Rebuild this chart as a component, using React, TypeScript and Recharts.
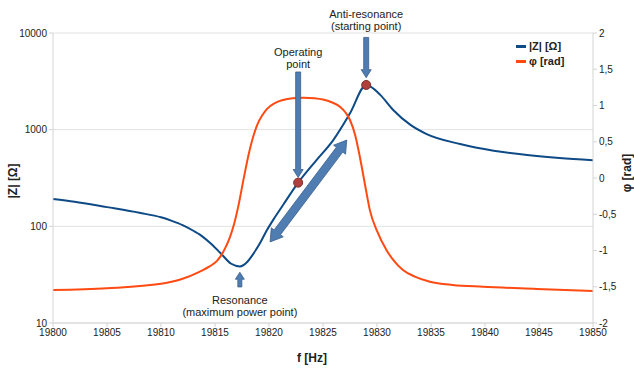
import React from 'react'
import { LineChart, Line, XAxis, YAxis, CartesianGrid, ReferenceLine, ReferenceDot, Legend } from 'recharts'

// |Z| curve
const zFreq = [19800, 19802, 19805, 19808, 19810, 19811, 19812, 19813, 19813.6, 19814.5, 19815.5, 19816.5, 19817.3, 19818, 19818.5, 19819.2, 19819.8, 19820.5, 19821.3, 19822.7, 19824.4, 19825.95, 19827.5, 19829, 19829.4, 19830.3, 19831.5, 19833.1, 19834.6, 19837.7, 19840.8, 19843.9, 19846.9, 19850]
const zOhm = [192, 180, 158, 138, 124, 114, 103, 90, 82, 68, 53, 41, 38.5, 43, 51, 68, 91, 122, 166, 283, 485, 781, 1475, 2900, 2780, 2290, 1600, 1120, 900, 710, 606, 547, 509, 482]

// phase curve
const phiFreq = [19800, 19805, 19810, 19812, 19813.6, 19814.5, 19815.2, 19815.6, 19816, 19816.35, 19816.7, 19817.2, 19817.6, 19818.2, 19818.9, 19819.4, 19819.8, 19820.5, 19821.3, 19822.2, 19823.2, 19824.2, 19825, 19825.8, 19826.6, 19827.1, 19827.5, 19828, 19828.4, 19828.9, 19829.35, 19830, 19830.9, 19831.5, 19832.4, 19833.5, 19834.9, 19837, 19839.8, 19844.8, 19850]
const phiRad = [-1.545, -1.52, -1.46, -1.39, -1.29, -1.22, -1.14, -1.06, -0.95, -0.83, -0.67, -0.36, -0.05, 0.38, 0.73, 0.87, 0.95, 1.03, 1.076, 1.1, 1.108, 1.1, 1.082, 1.045, 0.98, 0.9, 0.8, 0.58, 0.3, -0.1, -0.45, -0.73, -1.0, -1.13, -1.27, -1.36, -1.43, -1.475, -1.5, -1.53, -1.56]

const xTicks = [19800, 19805, 19810, 19815, 19820, 19825, 19830, 19835, 19840, 19845, 19850]
const zTicks = [10, 100, 1000, 10000]
const phiTicks = [-2, -1.5, -1, -0.5, 0, 0.5, 1, 1.5, 2]

// marked points on |Z|
const markFreq = [19822.7, 19829]
const markOhm = [283, 2900]

// annotation arrows: tail -> tip in data units
const arrows = [
  { f1: 19822.7, z1: 3950, f2: 19822.7, z2: 320, w: 5, hw: 10, hl: 8, both: false, lines: ['Operating', 'point'], dy: [-20, -8] },
  { f1: 19829, z1: 9000, f2: 19829, z2: 3450, w: 5, hw: 10, hl: 8, both: false, lines: ['Anti-resonance', '(starting point)'], dy: [-23, -11] },
  { f1: 19817.3, z1: 23.6, f2: 19817.3, z2: 33.5, w: 4, hw: 9, hl: 7, both: false, lines: ['Resonance', '(maximum power point)'], dy: [13, 25] },
  { f1: 19820.1, z1: 69, f2: 19827.2, z2: 780, w: 8, hw: 15, hl: 12, both: true, lines: [], dy: [] },
]

const series = [
  { name: '|Z| [Ω]', color: '#0E4A85' },
  { name: 'φ [rad]', color: '#FF4A12' },
]

const zData = zFreq.map((f, i) => ({ f, z: zOhm[i] }))
const phiData = phiFreq.map((f, i) => ({ f, phi: phiRad[i] }))

const fmtPhi = (v: number) => String(v).replace('.', ',')

const arrowShape = (a: any) => (props: any) => {
  const { x1, y1, x2, y2 } = props
  const dx = x2 - x1
  const dy = y2 - y1
  const len = Math.hypot(dx, dy)
  const ux = dx / len
  const uy = dy / len
  const nx = -uy
  const ny = ux
  const p = (x: number, y: number, s: number) => `${x + nx * s},${y + ny * s}`
  const nTipX = x2 - ux * a.hl
  const nTipY = y2 - uy * a.hl
  let pts: string[]
  if (a.both) {
    const nTailX = x1 + ux * a.hl
    const nTailY = y1 + uy * a.hl
    pts = [
      `${x1},${y1}`,
      p(nTailX, nTailY, a.hw / 2),
      p(nTailX, nTailY, a.w / 2),
      p(nTipX, nTipY, a.w / 2),
      p(nTipX, nTipY, a.hw / 2),
      `${x2},${y2}`,
      p(nTipX, nTipY, -a.hw / 2),
      p(nTipX, nTipY, -a.w / 2),
      p(nTailX, nTailY, -a.w / 2),
      p(nTailX, nTailY, -a.hw / 2),
    ]
  } else {
    pts = [
      p(x1, y1, a.w / 2),
      p(nTipX, nTipY, a.w / 2),
      p(nTipX, nTipY, a.hw / 2),
      `${x2},${y2}`,
      p(nTipX, nTipY, -a.hw / 2),
      p(nTipX, nTipY, -a.w / 2),
      p(x1, y1, -a.w / 2),
    ]
  }
  return (
    <g>
      <polygon points={pts.join(' ')} fill="#4F7DB2" stroke="#385E8C" strokeWidth={0.8} />
      {a.lines.map((t: string, i: number) => (
        <text key={t} x={x1} y={y1 + a.dy[i]} dy="0.35em" textAnchor="middle" fontSize={11} fill="#222">
          {t}
        </text>
      ))}
    </g>
  )
}

const renderLegend = () => (
  <div style={{ fontSize: 11, fontWeight: 'bold', color: '#222', lineHeight: '15px' }}>
    {series.map(s => (
      <div key={s.name} style={{ display: 'flex', alignItems: 'center' }}>
        <span style={{ display: 'inline-block', width: 10, height: 2.5, background: s.color, marginRight: 3 }} />
        {s.name}
      </div>
    ))}
  </div>
)

export default function App() {
  return (
    <div style={{ position: 'absolute', left: 0, top: 0, width: 634, height: 370, background: '#fff', fontFamily: '"Liberation Sans", Arial, sans-serif' }}>
      <LineChart width={634} height={370} margin={{ top: 33, right: 0, bottom: 0, left: 0 }}>
        <CartesianGrid yAxisId="z" vertical={false} stroke="#E2E2E2" />
        <XAxis
          dataKey="f"
          type="number"
          domain={[19800, 19850]}
          ticks={xTicks}
          height={47}
          allowDuplicatedCategory={false}
          tick={{ fontSize: 10, fill: '#222' }}
          tickSize={4}
          stroke="#D4D4D4"
          label={{
            content: ({ viewBox }: any) => (
              <text x={viewBox.x + viewBox.width / 2 - 11} y={viewBox.y + 39} textAnchor="middle" fontSize={12} fontWeight="bold" fill="#222">
                f [Hz]
              </text>
            ),
          }}
        />
        <YAxis
          yAxisId="z"
          scale="log"
          domain={[10, 10000]}
          ticks={zTicks}
          allowDataOverflow
          width={53}
          tick={{ fontSize: 10, fill: '#222' }}
          tickSize={4}
          stroke="#D4D4D4"
          label={{
            content: ({ viewBox }: any) => {
              const cx = 17
              const cy = viewBox.y + viewBox.height / 2 + 3
              return (
                <text x={cx} y={cy} transform={`rotate(-90 ${cx} ${cy})`} textAnchor="middle" fontSize={12} fontWeight="bold" fill="#222">
                  |Z| [Ω]
                </text>
              )
            },
          }}
        />
        <YAxis
          yAxisId="phi"
          orientation="right"
          domain={[-2, 2]}
          ticks={phiTicks}
          width={41}
          tickFormatter={fmtPhi}
          tick={{ fontSize: 10, fill: '#222' }}
          tickSize={4}
          stroke="#D4D4D4"
          label={{
            content: ({ viewBox }: any) => {
              const cx = 631
              const cy = viewBox.y + viewBox.height / 2 - 5
              return (
                <text x={cx} y={cy} transform={`rotate(-90 ${cx} ${cy})`} textAnchor="middle" fontSize={12} fontWeight="bold" fill="#222">
                  φ [rad]
                </text>
              )
            },
          }}
        />
        <Legend
          layout="horizontal"
          align="center"
          verticalAlign="middle"
          content={renderLegend}
          wrapperStyle={{ position: 'absolute', left: 516, top: 39, width: 110 }}
        />
        <Line
          yAxisId="z"
          data={zData}
          dataKey="z"
          name={series[0].name}
          type="monotone"
          stroke={series[0].color}
          strokeWidth={2}
          dot={false}
          isAnimationActive={false}
        />
        <Line
          yAxisId="phi"
          data={phiData}
          dataKey="phi"
          name={series[1].name}
          type="monotone"
          stroke={series[1].color}
          strokeWidth={2}
          dot={false}
          isAnimationActive={false}
        />
        {markFreq.map((f, i) => (
          <ReferenceDot key={f} yAxisId="z" x={f} y={markOhm[i]} r={4.5} fill="#B0403E" stroke="#7E2B2A" strokeWidth={1} ifOverflow="visible" />
        ))}
        {arrows.map((a, i) => (
          <ReferenceLine
            key={i}
            yAxisId="z"
            segment={[{ x: a.f1, y: a.z1 }, { x: a.f2, y: a.z2 }]}
            shape={arrowShape(a)}
            ifOverflow="visible"
          />
        ))}
      </LineChart>
    </div>
  )
}
